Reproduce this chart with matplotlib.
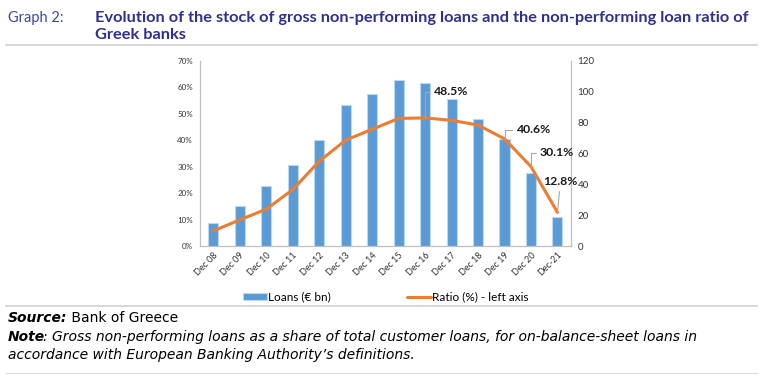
import matplotlib
matplotlib.use("Agg")
from matplotlib import pyplot as plt
from matplotlib.lines import Line2D

plt.rcParams['font.family'] = ['Lato', 'DejaVu Sans']

categories = ['Dec 08', 'Dec 09', 'Dec 10', 'Dec 11', 'Dec 12', 'Dec 13', 'Dec 14',
              'Dec 15', 'Dec 16', 'Dec 17', 'Dec 18', 'Dec 19', 'Dec 20', 'Dec-21']
loans_bn = [15.0, 26.2, 38.8, 52.9, 68.8, 91.8, 98.5, 107.6, 106.0, 95.2, 82.7, 69.5, 47.4, 18.8]
ratio_pct = [5.8, 10.0, 14.0, 21.4, 32.1, 40.1, 44.2, 48.3, 48.5, 47.6, 45.8, 40.6, 30.1, 12.8]
ratio_ticks = [0, 10, 20, 30, 40, 50, 60, 70]
loan_ticks = [0, 20, 40, 60, 80, 100, 120]

# which points get a label, and where the label sits (offset in pixels)
labelled = {8: (9, 26, 'angle'), 11: (12, 9, 'angle'), 12: (9, 14, 'angle'), 13: (3, 25, 'straight')}

bar_color = '#5B9BD5'
line_color = '#ED7D31'
title_color = '#2E3192'
axis_gray = '#BFBFBF'
foot_font = ['DejaVu Sans']
foot_size = 10

fig = plt.figure(figsize=(7.63, 3.83), dpi=100)

# header
fig.text(8 / 763, 1 - 18 / 383, 'Graph 2:', fontsize=10.5, color='#3B4A9B', va='center')
fig.text(95 / 763, 1 - 18 / 383,
         'Evolution of the stock of gross non-performing loans and the non-performing loan ratio of',
         fontsize=11.8, fontweight='bold', color=title_color, va='center')
fig.text(95 / 763, 1 - 35 / 383, 'Greek banks', fontsize=11.8, fontweight='bold',
         color=title_color, va='center')
for yy in (45, 306, 373):
    fig.add_artist(Line2D([6 / 763, 757 / 763], [1 - yy / 383, 1 - yy / 383],
                          color='#D0D0D0', lw=1.2 if yy != 373 else 0.6))

ax_r = fig.add_axes([200 / 763, 1 - 246.3 / 383, 370.7 / 763, 185.3 / 383])
ax_l = ax_r.twinx()
# ratio on the left side, loans on the right side
ax_l.yaxis.tick_left()
ax_r.yaxis.tick_right()

x = list(range(len(categories)))
ax_r.bar(x, loans_bn, width=0.38, color=bar_color, edgecolor='#BDD7EE', linewidth=0.8,
         label='Loans (€ bn)')
ax_l.plot(x, ratio_pct, color=line_color, lw=2.2, solid_capstyle='round',
          label='Ratio (%) - left axis')

ax_r.set_xlim(-0.5, len(categories) - 0.5)
ax_r.set_ylim(0, 120)
ax_l.set_ylim(0, 70)
ax_r.set_yticks(loan_ticks)
ax_r.set_yticklabels([str(v) for v in loan_ticks], fontsize=7, color='#333333')
ax_l.set_yticks(ratio_ticks)
ax_l.set_yticklabels([f'{v}%' for v in ratio_ticks], fontsize=5.8, color='#333333')
ax_r.set_xticks(x)
ax_r.set_xticklabels(categories, rotation=45, ha='right', rotation_mode='anchor',
                     fontsize=6.5, color='#333333')

for a in (ax_r, ax_l):
    a.spines['top'].set_visible(False)
    for s in ('left', 'right', 'bottom'):
        a.spines[s].set_color(axis_gray)
    a.tick_params(length=0, pad=5)
ax_r.tick_params(axis='x', pad=3)

for i, (dx, dy, kind) in labelled.items():
    if kind == 'angle':
        conn = 'angle,angleA=0,angleB=90,rad=0'
        ha = 'left'
    else:
        conn = 'arc3'
        ha = 'center'
    ax_l.annotate(f'{ratio_pct[i]:.1f}%', xy=(x[i], ratio_pct[i]), xytext=(dx, dy),
                  textcoords='offset pixels', ha=ha, va='center' if kind == 'angle' else 'bottom',
                  fontsize=8.8, fontweight='bold', color='#1A1A1A',
                  arrowprops=dict(arrowstyle='-', color='#A6A6A6', lw=0.8,
                                  connectionstyle=conn, shrinkA=1, shrinkB=0))

h1, l1 = ax_r.get_legend_handles_labels()
h2, l2 = ax_l.get_legend_handles_labels()
fig.legend(h1 + h2, l1 + l2, loc='center', bbox_to_anchor=(386 / 763, 1 - 297 / 383), ncol=2,
           frameon=False, fontsize=8.5, handlelength=2.0, handletextpad=0.1,
           columnspacing=6.5, handleheight=0.6)

# footer: bold lead word, then the rest placed right after it
renderer = fig.canvas.get_renderer()


def lead_and_rest(y, lead, rest, rest_style, gap):
    t = fig.text(8 / 763, 1 - y / 383, lead, fontsize=foot_size, fontweight='bold',
                 style='italic', family=foot_font, va='center')
    x1 = t.get_window_extent(renderer).x1
    fig.text((x1 + gap) / 763, 1 - y / 383, rest, fontsize=foot_size, style=rest_style,
             family=foot_font, va='center')


lead_and_rest(318, 'Source:', ' Bank of Greece', 'normal', 0)
lead_and_rest(337, 'Note',
              ': Gross non-performing loans as a share of total customer loans, for on-balance-sheet loans in',
              'italic', -2)
fig.text(8 / 763, 1 - 355 / 383,
         'accordance with European Banking Authority\u2019s definitions.',
         fontsize=foot_size, style='italic', family=foot_font, va='center')

fig.savefig('out.png', dpi=100)
